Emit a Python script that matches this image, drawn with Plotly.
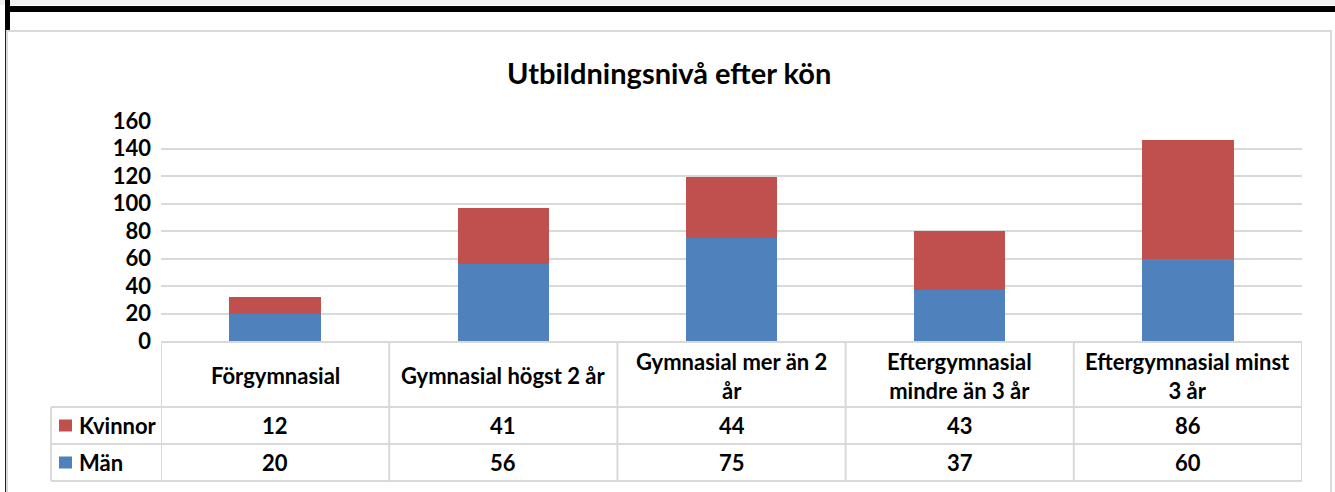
import plotly.graph_objects as go

categories = ["Förgymnasial", "Gymnasial högst 2 år", "Gymnasial mer än 2 år",
              "Eftergymnasial mindre än 3 år", "Eftergymnasial minst 3 år"]
header_labels = ["Förgymnasial", "Gymnasial högst 2 år", "Gymnasial mer än 2<br>år",
                 "Eftergymnasial<br>mindre än 3 år", "Eftergymnasial minst<br>3 år"]
kvinnor = [12, 41, 44, 43, 86]
man = [20, 56, 75, 37, 60]
series_names = ["Kvinnor", "Män"]
blue = "#4f81bd"
red = "#c0504d"
grid = "#d9d9d9"
FONT = "Lato"

W, H = 1335, 492
def py(p):
    return 1 - p / H
def px(p):
    return p / W

fig = go.Figure()
fig.add_trace(go.Bar(x=categories, y=man, name="Män", marker=dict(color=blue, line=dict(width=0)), width=0.4))
fig.add_trace(go.Bar(x=categories, y=kvinnor, name="Kvinnor", marker=dict(color=red, line=dict(width=0)), width=0.4))

shapes = []
# window chrome
shapes.append(dict(type="rect", xref="paper", yref="paper", x0=0, x1=1, y0=py(5), y1=1, fillcolor="#f0f0f0", line=dict(width=0), layer="below"))
shapes.append(dict(type="rect", xref="paper", yref="paper", x0=px(5), x1=1, y0=py(12), y1=py(6), fillcolor="black", line=dict(width=0)))
shapes.append(dict(type="rect", xref="paper", yref="paper", x0=px(5), x1=px(10), y0=py(30), y1=1, fillcolor="black", line=dict(width=0)))
shapes.append(dict(type="line", xref="paper", yref="paper", x0=px(5.5), x1=px(5.5), y0=0, y1=py(30), line=dict(color="#222222", width=1)))
# chart border
shapes.append(dict(type="rect", xref="paper", yref="paper", x0=px(7), x1=px(1331), y0=py(500), y1=py(31), line=dict(color=grid, width=2), layer="below"))

# table lines
top, hb, kb, mb = 342, 407, 444, 481
xl = 51
shapes.append(dict(type="line", xref="x", yref="paper", x0=-0.5, x1=len(categories) - 0.5, y0=py(top), y1=py(top), line=dict(color=grid, width=2)))
for yy in (hb, kb, mb):
    shapes.append(dict(type="line", xref="paper", yref="paper", x0=px(xl), x1=px(1302), y0=py(yy), y1=py(yy), line=dict(color=grid, width=2)))
for i in range(len(categories) + 1):
    shapes.append(dict(type="line", xref="x", yref="paper", x0=i - 0.5, x1=i - 0.5, y0=py(top), y1=py(mb), line=dict(color=grid, width=2)))
shapes.append(dict(type="line", xref="paper", yref="paper", x0=px(xl), x1=px(xl), y0=py(hb), y1=py(mb), line=dict(color=grid, width=2)))
# legend keys
for yc, col in (((hb + kb) / 2, red), ((kb + mb) / 2, blue)):
    shapes.append(dict(type="rect", xref="paper", yref="paper", x0=px(59), x1=px(72), y0=py(yc + 6), y1=py(yc - 6), fillcolor=col, line=dict(width=0)))

ann = []
tf = dict(family=FONT, size=22, color="black")
for i, lab in enumerate(header_labels):
    ann.append(dict(x=categories[i], y=py((top + hb) / 2 + 1), xref="x", yref="paper", text="<b>%s</b>" % lab,
                    showarrow=False, font=tf, xanchor="center", yanchor="middle"))
for row, (vals, yc) in enumerate(((kvinnor, (hb + kb) / 2), (man, (kb + mb) / 2))):
    ann.append(dict(x=px(77), y=py(yc), xref="paper", yref="paper", text="<b>%s</b>" % series_names[row],
                    showarrow=False, font=tf, xanchor="left", yanchor="middle"))
    for i, v in enumerate(vals):
        ann.append(dict(x=categories[i], y=py(yc), xref="x", yref="paper", text="<b>%d</b>" % v,
                        showarrow=False, font=tf, xanchor="center", yanchor="middle"))
ann.append(dict(x=px(669), y=py(72), xref="paper", yref="paper", text="<b>Utbildningsnivå efter kön</b>",
                showarrow=False, font=dict(family=FONT, size=29, color="black"), xanchor="center", yanchor="middle"))

fig.update_layout(
    width=W, height=H, margin=dict(l=0, r=0, t=0, b=0, autoexpand=False),
    paper_bgcolor="white", plot_bgcolor="white",
    barmode="stack", showlegend=False, bargap=0.6,
    xaxis=dict(domain=[px(161), px(1302)], range=[-0.5, len(categories) - 0.5], showticklabels=False,
               showgrid=False, zeroline=False, showline=False, fixedrange=True, automargin=False),
    yaxis=dict(domain=[py(341), py(121)], range=[0, 160], dtick=20, showgrid=True, gridcolor=grid, gridwidth=2,
               zeroline=False, showline=False, tickfont=dict(family=FONT, size=22, color="black"),
               tickprefix="<b>", ticksuffix="</b>", ticklabelstandoff=9, fixedrange=True, automargin=False),
    shapes=shapes, annotations=ann,
)
fig.write_html("out.html", config=dict(displayModeBar=False),
               post_script="document.body.style.margin='0';document.body.style.overflow='hidden';")
